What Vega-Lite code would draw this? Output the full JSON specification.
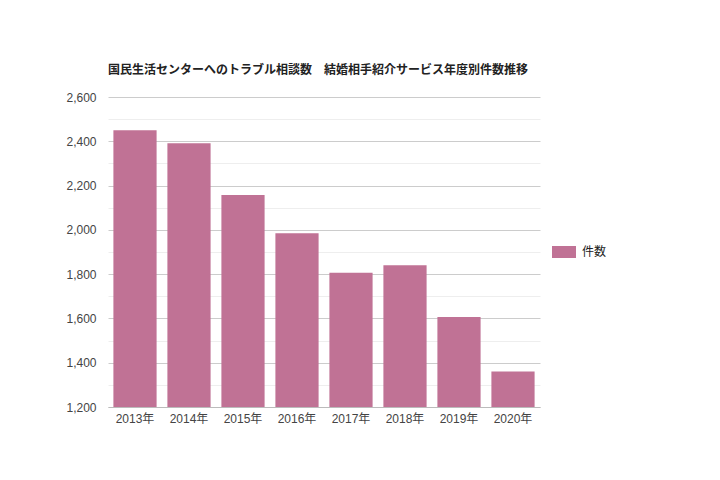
{
  "$schema": "https://vega.github.io/schema/vega-lite/v6.json",
  "description": "国民生活センターへのトラブル相談数 結婚相手紹介サービス年度別件数推移",
  "width": 432,
  "height": 310,
  "autosize": {"type": "none"},
  "padding": {"left": 108, "top": 97, "right": 180, "bottom": 73},
  "background": "white",
  "title": {
    "text": "国民生活センターへのトラブル相談数　結婚相手紹介サービス年度別件数推移",
    "anchor": "start",
    "frame": "group",
    "fontSize": 12,
    "fontWeight": "bold",
    "color": "#222222",
    "offset": 14
  },
  "config": {
    "font": "Liberation Sans, Noto Sans CJK JP",
    "view": {"stroke": null}
  },
  "data": {
    "values": [
      {"year": "2013年", "series": "件数", "count": 2450},
      {"year": "2014年", "series": "件数", "count": 2391},
      {"year": "2015年", "series": "件数", "count": 2157},
      {"year": "2016年", "series": "件数", "count": 1985},
      {"year": "2017年", "series": "件数", "count": 1806},
      {"year": "2018年", "series": "件数", "count": 1840},
      {"year": "2019年", "series": "件数", "count": 1607},
      {"year": "2020年", "series": "件数", "count": 1360}
    ]
  },
  "mark": {"type": "bar", "clip": true},
  "encoding": {
    "x": {
      "field": "year",
      "type": "nominal",
      "sort": null,
      "title": null,
      "scale": {"paddingInner": 0.2, "paddingOuter": 0.1},
      "axis": {
        "labelAngle": 0,
        "labelFontSize": 12,
        "labelColor": "#444444",
        "labelPadding": 6,
        "ticks": false,
        "domainColor": "#bbbbbb"
      }
    },
    "y": {
      "field": "count",
      "type": "quantitative",
      "title": null,
      "scale": {"domain": [1200, 2600], "nice": false, "zero": false},
      "axis": {
        "values": [1200, 1300, 1400, 1500, 1600, 1700, 1800, 1900, 2000, 2100, 2200, 2300, 2400, 2500, 2600],
        "labelExpr": "datum.value % 200 === 0 ? format(datum.value, ',') : ''",
        "labelFontSize": 12,
        "labelColor": "#444444",
        "labelPadding": 12,
        "ticks": false,
        "domain": false,
        "gridColor": {"condition": {"test": "datum.value % 200 === 0", "value": "#cccccc"}, "value": "#eeeeee"}
      }
    },
    "color": {
      "field": "series",
      "type": "nominal",
      "scale": {"range": ["#c07295"]},
      "legend": {
        "title": null,
        "orient": "none",
        "legendX": 444,
        "legendY": 143,
        "symbolType": "M-1,-0.5L1,-0.5L1,0.5L-1,0.5Z",
        "symbolSize": 576,
        "symbolStrokeWidth": 0,
        "labelFontSize": 12,
        "labelColor": "#222222",
        "labelOffset": 6
      }
    }
  }
}
